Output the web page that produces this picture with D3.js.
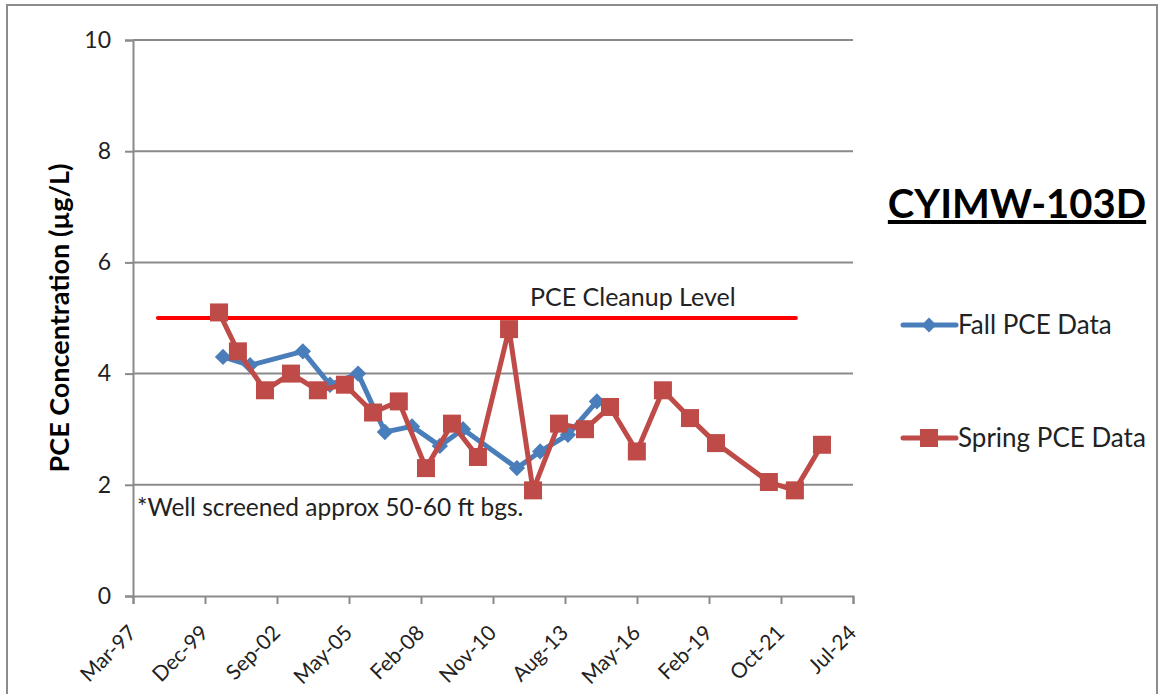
<!DOCTYPE html>
<html><head><meta charset="utf-8">
<script src="https://cdn.jsdelivr.net/npm/d3@7"></script>
<style>body{margin:0;background:#fff;} svg{display:block;}</style>
</head><body>
<svg id="chart" width="1160" height="694"></svg>
<script>
// ---- data ----
const fallDates = ["2000-08-12","2001-08-23","2003-08-26","2004-09-06","2005-10-01","2006-10-09","2007-10-20","2008-11-10","2009-09-28","2011-10-16","2012-09-03","2013-09-24","2014-10-31"];
const fallValues = [4.3,4.15,4.4,3.8,4.0,2.95,3.05,2.7,3.0,2.3,2.6,2.9,3.5];
const springDates = ["2000-06-18","2001-03-07","2002-03-18","2003-03-14","2004-03-22","2005-04-01","2006-04-27","2007-04-20","2008-05-01","2009-04-27","2010-04-23","2011-06-29","2012-05-27","2013-05-23","2014-05-19","2015-05-01","2016-05-08","2017-05-05","2018-05-16","2019-05-12","2021-05-16","2022-05-12","2023-05-23"];
const springValues = [5.1,4.4,3.7,4.0,3.7,3.8,3.3,3.5,2.3,3.1,2.5,4.8,1.9,3.1,3.0,3.4,2.6,3.7,3.2,2.75,2.05,1.9,2.72];
const cleanupDates = ["1998-02-20","2022-05-26"];
const cleanupValues = [5,5];
const xTickLabels = ["Mar-97","Dec-99","Sep-02","May-05","Feb-08","Nov-10","Aug-13","May-16","Feb-19","Oct-21","Jul-24"];
const yTicks = [0,2,4,6,8,10];
const seriesNames = ["Fall PCE Data","Spring PCE Data"];

// ---- layout ----
const svg = d3.select("#chart");
const L = 133, R = 853, T = 40, B = 596;
const font = "Lato, 'Open Sans', sans-serif";
const parse = d3.timeParse("%Y-%m-%d");
const xStart = new Date(1997, 2, 11), xEnd = new Date(2024, 6, 27);
const x = d3.scaleTime().domain([xStart, xEnd]).range([L, R]);
const y = d3.scaleLinear().domain([0, 10]).range([B, T]);
const tickDates = xTickLabels.map((_, i) => d3.timeDay.offset(xStart, i * 1000));

// outer border
svg.append("rect").attr("x", 7).attr("y", 5).attr("width", 1150).attr("height", 700)
  .attr("fill", "none").attr("stroke", "#8c8c8c").attr("stroke-width", 2);

// gridlines
svg.append("g").selectAll("line").data(yTicks.filter(d => d > 0)).join("line")
  .attr("x1", L).attr("x2", R).attr("y1", d => y(d)).attr("y2", d => y(d))
  .attr("stroke", "#8a8a8a").attr("stroke-width", 2);

// y axis
const yAxis = d3.axisLeft(y).tickValues(yTicks).tickSize(8).tickPadding(14).tickFormat(d3.format("d"));
const gy = svg.append("g").attr("transform", `translate(${L},0)`).call(yAxis);
gy.select(".domain").attr("stroke", "#8a8a8a").attr("stroke-width", 2);
gy.selectAll(".tick line").attr("stroke", "#8a8a8a").attr("stroke-width", 2);
gy.selectAll("text").attr("font-family", font).attr("font-size", 23).attr("fill", "#222");

// x axis
const xAxis = d3.axisBottom(x).tickValues(tickDates).tickSize(8)
  .tickFormat((d, i) => xTickLabels[i]);
const gx = svg.append("g").attr("transform", `translate(0,${B})`).call(xAxis);
gx.select(".domain").attr("stroke", "#8a8a8a").attr("stroke-width", 2);
gx.selectAll(".tick line").attr("stroke", "#8a8a8a").attr("stroke-width", 2);
gx.selectAll("text").attr("font-family", font).attr("font-size", 21).attr("fill", "#222")
  .attr("text-anchor", "end").attr("y", 0).attr("dy", "0.35em")
  .attr("transform", "translate(-1,33) rotate(-45)");

// y title
svg.append("text").attr("transform", `translate(69,318) rotate(-90)`)
  .attr("text-anchor", "middle").attr("font-family", font).attr("font-weight", "bold")
  .attr("font-size", 27).attr("fill", "#000").text("PCE Concentration (µg/L)");

// cleanup line
const cleanup = cleanupDates.map((d, i) => ({ d: parse(d), v: cleanupValues[i] }));
const line = d3.line().x(p => x(p.d)).y(p => y(p.v));
svg.append("path").datum(cleanup).attr("d", line).attr("fill", "none")
  .attr("stroke", "#ff0000").attr("stroke-width", 4).attr("stroke-linecap", "round");
svg.append("text").attr("x", 530).attr("y", 306).attr("font-family", font).attr("font-size", 25)
  .attr("fill", "#222").text("PCE Cleanup Level");

// series
const fall = fallDates.map((d, i) => ({ d: parse(d), v: fallValues[i] }));
const spring = springDates.map((d, i) => ({ d: parse(d), v: springValues[i] }));
const blue = "#4a7ebb", red = "#be4b48";

svg.append("path").datum(fall).attr("d", line).attr("fill", "none")
  .attr("stroke", blue).attr("stroke-width", 5).attr("stroke-linejoin", "round");
svg.append("g").selectAll("path").data(fall).join("path")
  .attr("d", d3.symbol().type(d3.symbolDiamond2).size(170)).attr("fill", blue)
  .attr("transform", p => `translate(${x(p.d)},${y(p.v)})`);

svg.append("path").datum(spring).attr("d", line).attr("fill", "none")
  .attr("stroke", red).attr("stroke-width", 5).attr("stroke-linejoin", "round");
svg.append("g").selectAll("rect").data(spring).join("rect")
  .attr("x", p => x(p.d) - 9).attr("y", p => y(p.v) - 9).attr("width", 18).attr("height", 18)
  .attr("fill", red);

// note
svg.append("text").attr("x", 137).attr("y", 516).attr("font-family", font).attr("font-size", 24.5)
  .attr("fill", "#222").text("*Well screened approx 50-60 ft bgs.");

// title
svg.append("text").attr("x", 1017).attr("y", 218).attr("text-anchor", "middle")
  .attr("font-family", font).attr("font-weight", "bold").attr("font-size", 40)
  .attr("text-decoration", "underline").attr("fill", "#000").text("CYIMW-103D");

// legend
const lg = svg.append("g");
[0, 1].forEach(i => {
  const ly = i === 0 ? 325 : 438;
  const col = i === 0 ? blue : red;
  lg.append("line").attr("x1", 903).attr("x2", 956).attr("y1", ly).attr("y2", ly)
    .attr("stroke", col).attr("stroke-width", 5).attr("stroke-linecap", "round");
  if (i === 0) {
    lg.append("path").attr("d", d3.symbol().type(d3.symbolDiamond2).size(140))
      .attr("fill", col).attr("transform", `translate(929,${ly})`);
  } else {
    lg.append("rect").attr("x", 920).attr("y", ly - 9).attr("width", 18).attr("height", 18).attr("fill", col);
  }
  lg.append("text").attr("x", 958).attr("y", ly + 9).attr("font-family", font).attr("font-size", 26)
    .attr("fill", "#222").text(seriesNames[i]);
});
</script>
</body></html>
